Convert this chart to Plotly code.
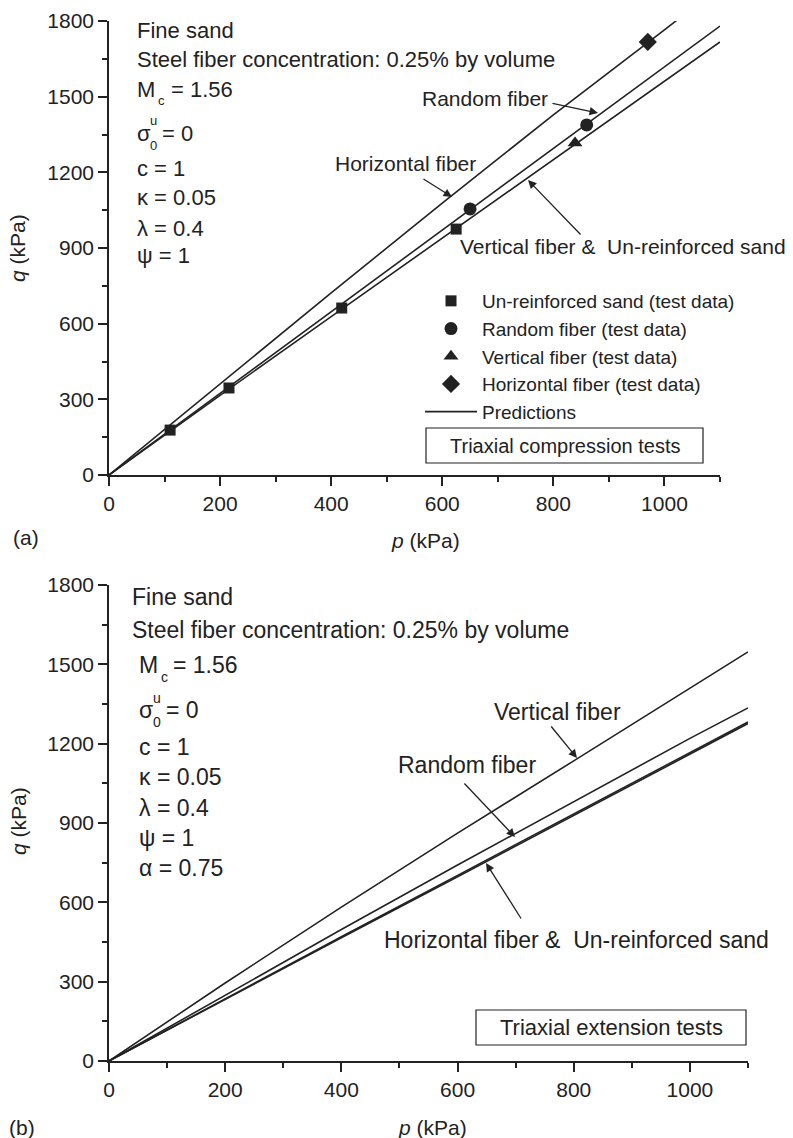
import plotly.graph_objects as go

W, H = 793, 1138
FONT = "Liberation Sans, Arial, Helvetica, sans-serif"
INK = "#222222"

# ---------------- Panel (a): triaxial compression ----------------
unr_p = [110, 216, 419, 625]
unr_q = [178, 345, 662, 975]
rand_p = [650, 860]
rand_q = [1055, 1388]
vert_p = [839]
vert_q = [1316]
hor_p = [970]
hor_q = [1717]

pred_a_p = [0, 200, 400, 600, 800, 1000, 1100]
pred_a_hor = [0, 362, 722, 1078, 1428, 1765, 1935]
pred_a_rand = [0, 324, 648, 972, 1296, 1620, 1780]
pred_a_vert = [0, 316, 628, 940, 1250, 1562, 1717]

# ---------------- Panel (b): triaxial extension ----------------
pred_b_p = [0, 200, 400, 600, 800, 1000, 1100]
pred_b_vert = [0, 295, 582, 862, 1135, 1410, 1547]
pred_b_rand = [0, 250, 497, 741, 982, 1220, 1335]
pred_b_hor = [0, 236, 470, 702, 934, 1166, 1282]
pred_b_unr = [0, 234, 466, 697, 928, 1160, 1276]

x_ticks = [0, 200, 400, 600, 800, 1000]
y_ticks = [0, 300, 600, 900, 1200, 1500, 1800]


def px(x):
    return x / W


def py(y):
    return 1 - y / H


fig = go.Figure()

line_style = dict(color=INK, width=1.6)

# prediction lines panel a
fig.add_trace(go.Scatter(x=pred_a_p, y=pred_a_hor, mode="lines", line=line_style,
                         name="Predictions", showlegend=True, legendrank=5, xaxis="x", yaxis="y"))
fig.add_trace(go.Scatter(x=pred_a_p, y=pred_a_rand, mode="lines", line=line_style,
                         showlegend=False, xaxis="x", yaxis="y"))
fig.add_trace(go.Scatter(x=pred_a_p, y=pred_a_vert, mode="lines", line=line_style,
                         showlegend=False, xaxis="x", yaxis="y"))

# test data panel a
mk = dict(color=INK, line=dict(width=0))
fig.add_trace(go.Scatter(x=unr_p, y=unr_q, mode="markers", name="Un-reinforced sand (test data)",
                         marker=dict(symbol="square", size=11, **mk), legendrank=1, xaxis="x", yaxis="y"))
fig.add_trace(go.Scatter(x=rand_p, y=rand_q, mode="markers", name="Random fiber (test data)",
                         marker=dict(symbol="circle", size=13, **mk), legendrank=2, xaxis="x", yaxis="y"))
fig.add_trace(go.Scatter(x=vert_p, y=vert_q, mode="markers", name="Vertical fiber (test data)",
                         marker=dict(symbol="triangle-up", size=13, **mk), legendrank=3, xaxis="x", yaxis="y"))
fig.add_trace(go.Scatter(x=hor_p, y=hor_q, mode="markers", name="Horizontal fiber (test data)",
                         marker=dict(symbol="diamond", size=14, **mk), legendrank=4, xaxis="x", yaxis="y"))

# prediction lines panel b
for ys in [pred_b_vert, pred_b_rand, pred_b_hor, pred_b_unr]:
    fig.add_trace(go.Scatter(x=pred_b_p, y=ys, mode="lines", line=dict(color=INK, width=1.6),
                             showlegend=False, xaxis="x2", yaxis="y2"))

axis_common = dict(
    showline=True, linecolor=INK, linewidth=1.5, mirror=False,
    ticks="outside", ticklen=9, tickwidth=1.5, tickcolor=INK,
    showgrid=False, zeroline=False, automargin=False,
    tickfont=dict(family=FONT, size=21, color=INK),
)


def minor(d):
    return dict(ticks="outside", ticklen=5, tickwidth=1.5, tickcolor=INK, dtick=d, tick0=0)


fig.update_layout(
    width=W, height=H,
    margin=dict(l=0, r=0, t=0, b=0, autoexpand=False),
    paper_bgcolor="white", plot_bgcolor="white",
    font=dict(family=FONT, size=21, color=INK),
    xaxis=dict(domain=[px(109), px(720)], range=[0, 1100], anchor="y",
               tickvals=x_ticks, minor=minor(100), **axis_common),
    yaxis=dict(domain=[py(475), py(21)], range=[0, 1800], anchor="x",
               tickvals=y_ticks, minor=minor(150), **axis_common),
    xaxis2=dict(domain=[px(109), px(748)], range=[0, 1100], anchor="y2",
                tickvals=x_ticks, minor=minor(100), **axis_common),
    yaxis2=dict(domain=[py(1061), py(585)], range=[0, 1800], anchor="x2",
                tickvals=y_ticks, minor=minor(150), **axis_common),
    legend=dict(x=px(420), y=py(282), xanchor="left", yanchor="top",
                bgcolor="rgba(0,0,0,0)", borderwidth=0,
                font=dict(family=FONT, size=19, color=INK),
                itemwidth=52, tracegroupgap=0, traceorder="normal"),
    showlegend=True,
)

ann = []


def text(x, y, s, size=21, xanchor="left", yanchor="middle"):
    xs = -3 if xanchor == "left" else 0
    ann.append(dict(x=px(x), y=py(y), xref="paper", yref="paper", text=s, showarrow=False,
                    xanchor=xanchor, yanchor=yanchor, xshift=xs,
                    font=dict(family=FONT, size=size, color=INK)))


def arrow(tail, tip):
    ann.append(dict(x=px(tip[0]), y=py(tip[1]), xref="paper", yref="paper", text="",
                    showarrow=True, ax=tail[0] - tip[0], ay=tail[1] - tip[1],
                    axref="pixel", ayref="pixel",
                    arrowhead=2, arrowsize=1.3, arrowwidth=1.3, arrowcolor=INK))


# panel (a) parameter block
PA = 22
text(138, 31, "Fine sand", PA)
text(138, 60, "Steel fiber concentration: 0.25% by volume", PA)
text(138, 90, "M", PA)
text(159, 101, "c", 13)
text(172, 90, "= 1.56", PA)
text(138, 133, "σ", PA)
text(151, 145, "0", 13)
text(151, 121, "u", 13)
text(163, 133, "= 0", PA)
text(138, 169, "c = 1", PA)
text(138, 198, "κ = 0.05", PA)
text(138, 228, "λ = 0.4", PA)
text(138, 256, "ψ = 1", PA)

# panel (a) line labels
text(485, 98, "Random fiber", 21, xanchor="center")
arrow((551, 103), (598, 113))
text(405, 163, "Horizontal fiber", 21, xanchor="center")
arrow((422, 178), (452, 197))
text(623, 247, "Vertical fiber &  Un-reinforced sand", 21, xanchor="center")
arrow((582, 236), (528, 180))

# compression box
text(565, 446, "Triaxial compression tests", 20, xanchor="center")

# axis titles panel (a)
text(18, 248, "<i>q</i> (kPa)", 21, xanchor="center")
ann[-1]["textangle"] = -90
text(425, 540, "<i>p</i> (kPa)", 21, xanchor="center")
text(26, 537, "(a)", 21, xanchor="center")

# panel (b) parameter block
PB = 23
text(133, 597, "Fine sand", PB)
text(133, 630, "Steel fiber concentration: 0.25% by volume", PB)
text(140, 665, "M", PB)
text(162, 677, "c", 14)
text(174, 665, "= 1.56", PB)
text(140, 710, "σ", PB)
text(154, 722, "0", 14)
text(154, 698, "u", 14)
text(167, 710, "= 0", PB)
text(140, 747, "c = 1", PB)
text(140, 777, "κ = 0.05", PB)
text(140, 808, "λ = 0.4", PB)
text(140, 838, "ψ = 1", PB)
text(140, 868, "α = 0.75", PB)

# panel (b) line labels
text(557, 712, "Vertical fiber", PB, xanchor="center")
arrow((550, 725), (577, 758))
text(467, 765, "Random fiber", PB, xanchor="center")
arrow((463, 782), (515, 837))
text(576, 940, "Horizontal fiber &  Un-reinforced sand", PB, xanchor="center")
arrow((522, 920), (486, 863))

# extension box
text(611, 1027, "Triaxial extension tests", 22, xanchor="center")

# axis titles panel (b)
text(18, 821, "<i>q</i> (kPa)", 21, xanchor="center")
ann[-1]["textangle"] = -90
text(432, 1127, "<i>p</i> (kPa)", 21, xanchor="center")
text(22, 1127, "(b)", 21, xanchor="center")

fig.update_layout(annotations=ann)

fig.update_layout(shapes=[
    dict(type="rect", xref="paper", yref="paper", x0=px(426), x1=px(703), y0=py(463), y1=py(428),
         line=dict(color=INK, width=1.2)),
    dict(type="rect", xref="paper", yref="paper", x0=px(476), x1=px(746), y0=py(1045), y1=py(1010),
         line=dict(color=INK, width=1.2)),
])

fig.write_html("out.html")
